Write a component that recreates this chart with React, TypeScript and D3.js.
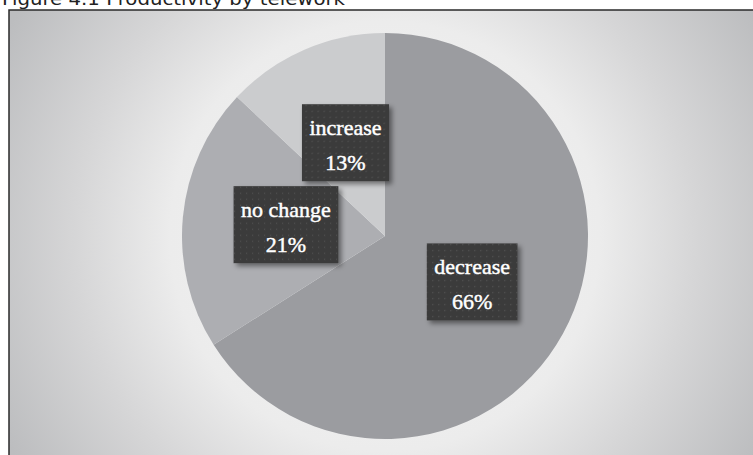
import React, { useEffect, useRef } from "react";
import * as d3 from "d3";

const categories = ["decrease", "no change", "increase"];
const values = [66, 21, 13];
const sliceColors = ["#9b9ca0", "#adaeb2", "#cbccce"];
const title = "Figure 4.1 Productivity by telework";

const W = 753;
const H = 455;

export default function App() {
  const ref = useRef<SVGSVGElement | null>(null);

  useEffect(() => {
    const svg = d3.select(ref.current);
    svg.selectAll("*").remove();
    const defs = svg.append("defs");

    const cx = 385;
    const cy = 236;
    const r = 203;

    const grad = defs
      .append("radialGradient")
      .attr("id", "bg")
      .attr("gradientUnits", "userSpaceOnUse")
      .attr("cx", cx)
      .attr("cy", cy)
      .attr("r", 430);
    grad.append("stop").attr("offset", "0%").attr("stop-color", "#f6f6f6");
    grad.append("stop").attr("offset", "50%").attr("stop-color", "#ececec");
    grad.append("stop").attr("offset", "72%").attr("stop-color", "#d6d6d7");
    grad.append("stop").attr("offset", "100%").attr("stop-color", "#bcbdbf");

    const pat = defs
      .append("pattern")
      .attr("id", "dots")
      .attr("patternUnits", "userSpaceOnUse")
      .attr("width", 6)
      .attr("height", 6);
    pat.append("rect").attr("width", 6).attr("height", 6).attr("fill", "#3b3b3b");
    pat.append("rect").attr("x", 2).attr("y", 2).attr("width", 1.2).attr("height", 1.2).attr("fill", "#525252");

    const f = defs
      .append("filter")
      .attr("id", "shadow")
      .attr("x", "-20%")
      .attr("y", "-20%")
      .attr("width", "150%")
      .attr("height", "150%");
    f.append("feDropShadow")
      .attr("dx", 3)
      .attr("dy", 3)
      .attr("stdDeviation", 2.5)
      .attr("flood-color", "#000")
      .attr("flood-opacity", 0.45);

    // frame
    svg
      .append("rect")
      .attr("x", 9)
      .attr("y", 10)
      .attr("width", W + 20)
      .attr("height", H + 20)
      .attr("fill", "url(#bg)")
      .attr("stroke", "#2a2a2a")
      .attr("stroke-width", 1.5);

    // title (cut at the top edge, as in the reference)
    svg
      .append("text")
      .attr("x", 2)
      .attr("y", 5)
      .attr("font-family", "DejaVu Sans")
      .attr("font-size", 18)
      .attr("fill", "#222")
      .attr("textLength", 343)
      .attr("lengthAdjust", "spacingAndGlyphs")
      .text(title);

    type D = { name: string; value: number; color: string };
    const data: D[] = categories.map((c, i) => ({ name: c, value: values[i], color: sliceColors[i] }));
    const pie = d3
      .pie<D>()
      .value((d) => d.value)
      .sort(null)
      .startAngle(0)
      .endAngle(Math.PI * 2);
    const arcs = pie(data);
    const arc = d3.arc<d3.PieArcDatum<D>>().innerRadius(0).outerRadius(r);
    const labelArc = d3.arc<d3.PieArcDatum<D>>().innerRadius(r * 0.49).outerRadius(r * 0.49);

    const g = svg.append("g").attr("transform", `translate(${cx},${cy})`);
    g.selectAll("path.slice")
      .data(arcs)
      .enter()
      .append("path")
      .attr("class", "slice")
      .attr("d", arc as any)
      .attr("fill", (d) => d.data.color);

    const total = d3.sum(values);
    arcs.forEach((d) => {
      const [lx, ly] = labelArc.centroid(d);
      const lg = g.append("g").attr("transform", `translate(${lx},${ly})`);
      const rect = lg.append("rect").attr("fill", "url(#dots)").attr("filter", "url(#shadow)");
      const mk = (y: number, s: string) =>
        lg
          .append("text")
          .attr("text-anchor", "middle")
          .attr("y", y)
          .attr("font-family", "Liberation Serif")
          .attr("font-size", 22)
          .attr("fill", "#ffffff")
          .attr("stroke", "#ffffff")
          .attr("stroke-width", 0.45)
          .text(s);
      const t1 = mk(-10, d.data.name);
      const t2 = mk(25, `${Math.round((d.data.value / total) * 100)}%`);
      const w1 = (t1.node() as SVGTextElement).getComputedTextLength();
      const w2 = (t2.node() as SVGTextElement).getComputedTextLength();
      const bw = Math.max(w1, w2) + 15;
      const bh = 77;
      rect.attr("x", -bw / 2).attr("y", -bh / 2 - 2).attr("width", bw).attr("height", bh);
    });
  }, []);

  return (
    <svg
      ref={ref}
      width={W}
      height={H}
      style={{ position: "absolute", left: 0, top: 0, display: "block" }}
    />
  );
}
